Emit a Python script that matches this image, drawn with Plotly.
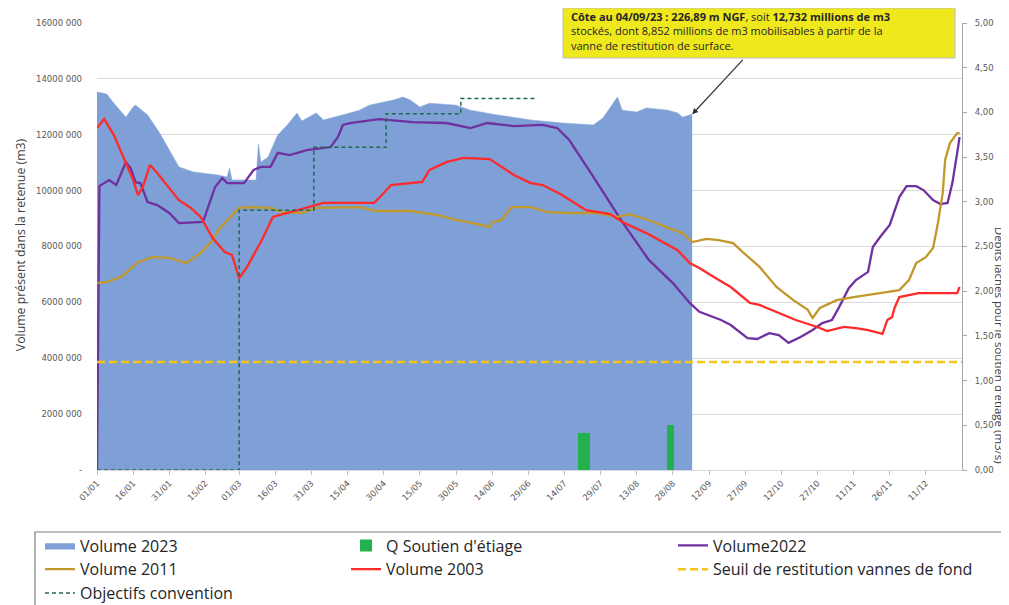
import plotly.graph_objects as go

# axe x = numéro du jour (0 = 01/01), volumes en millions de m3
tick_days = [0, 15, 30, 45, 59, 74, 89, 104, 119, 134, 149, 164, 179, 194, 209, 224,
             239, 254, 269, 284, 299, 314, 329, 344]
tick_labels = ['01/01', '16/01', '31/01', '15/02', '01/03', '16/03', '31/03', '15/04',
               '30/04', '15/05', '30/05', '14/06', '29/06', '14/07', '29/07', '13/08',
               '28/08', '12/09', '27/09', '12/10', '27/10', '11/11', '26/11', '11/12']

vol_ticks = [0, 2, 4, 6, 8, 10, 12, 14, 16]
vol_labels = ['-', '2000 000', '4000 000', '6000 000', '8000 000', '10000 000',
              '12000 000', '14000 000', '16000 000']
debit_ticks = [0, 0.5, 1, 1.5, 2, 2.5, 3, 3.5, 4, 4.5, 5]
debit_labels = ['0,00', '0,50', '1,00', '1,50', '2,00', '2,50', '3,00', '3,50',
                '4,00', '4,50', '5,00']

# Volume 2023
days_2023 = [0, 4, 7, 12, 15, 16, 21, 26, 34, 40, 50, 54, 55, 56, 66, 67, 68, 71, 75, 79,
             83, 85, 91, 94, 105, 109, 113, 123, 127, 130, 134, 138, 149, 155, 166, 180,
             193, 206, 210, 216, 218, 224, 228, 237, 241, 243, 247]
vol_2023 = [13.53, 13.46, 13.13, 12.63, 12.99, 13.06, 12.71, 12.06, 10.85, 10.67, 10.56,
            10.49, 10.81, 10.38, 10.38, 11.67, 11.02, 11.2, 11.99, 12.35, 12.78, 12.49,
            12.78, 12.53, 12.78, 12.88, 13.06, 13.24, 13.35, 13.24, 12.99, 13.13, 13.06,
            12.88, 12.71, 12.53, 12.42, 12.35, 12.6, 13.35, 12.88, 12.81, 12.96, 12.88,
            12.78, 12.63, 12.73]

# Q soutien d'étiage (m3/s)
soutien_days = [200, 201, 202, 203, 204, 237, 238, 239]
soutien_vals = [0.41, 0.41, 0.41, 0.41, 0.41, 0.5, 0.5, 0.5]

# Volume 2022
days_2022 = [0, 1, 5, 8, 12, 14, 16, 18, 21, 25, 30, 34, 44, 46, 49, 52, 54, 61, 65, 68,
             72, 75, 80, 87, 97, 100, 102, 105, 117, 131, 145, 155, 162, 173, 185, 191,
             196, 205, 214, 218, 229, 239, 246, 250, 259, 263, 270, 274, 279, 283, 287,
             292, 297, 301, 305, 308, 312, 315, 320, 322, 325, 329, 333, 336, 340, 343,
             347, 350, 353, 355, 357, 358]
vol_2022 = [0, 10.16, 10.38, 10.2, 11.02, 10.8, 10.3, 10.27, 9.59, 9.48, 9.2, 8.84, 8.88,
            9.41, 10.13, 10.45, 10.27, 10.27, 10.74, 10.85, 10.85, 11.35, 11.27, 11.45,
            11.56, 11.92, 12.35, 12.42, 12.56, 12.45, 12.42, 12.24, 12.42, 12.31, 12.35,
            12.24, 11.81, 10.63, 9.41, 8.88, 7.52, 6.69, 5.98, 5.66, 5.37, 5.19, 4.72,
            4.69, 4.9, 4.83, 4.55, 4.76, 5.01, 5.26, 5.37, 5.83, 6.51, 6.8, 7.09, 7.98,
            8.34, 8.77, 9.77, 10.16, 10.16, 10.02, 9.66, 9.52, 9.56, 10.27, 11.35, 11.92]

# Volume 2011
days_2011 = [0, 4, 10, 17, 23, 30, 37, 43, 47, 51, 55, 59, 63, 72, 77, 85, 91, 105, 109,
             116, 130, 141, 149, 156, 163, 164, 168, 172, 180, 187, 196, 207, 216, 221,
             229, 238, 243, 247, 253, 258, 264, 268, 275, 282, 289, 295, 297, 300, 307,
             314, 325, 333, 337, 340, 344, 347, 349, 351, 352, 354, 357, 358]
vol_2011 = [6.69, 6.73, 6.91, 7.44, 7.62, 7.59, 7.41, 7.77, 8.12, 8.66, 9.02, 9.38, 9.41,
            9.38, 9.23, 9.2, 9.38, 9.41, 9.41, 9.27, 9.27, 9.13, 8.95, 8.84, 8.7, 8.88,
            8.95, 9.41, 9.41, 9.23, 9.2, 9.2, 9.06, 9.16, 8.95, 8.63, 8.48, 8.16, 8.27,
            8.23, 8.12, 7.8, 7.27, 6.55, 6.08, 5.73, 5.44, 5.8, 6.08, 6.19, 6.33, 6.44,
            6.8, 7.41, 7.62, 7.95, 8.84, 9.91, 11.1, 11.7, 12.06, 12.06]

# Volume 2003
days_2003 = [0, 3, 7, 11, 15, 17, 19, 22, 25, 30, 34, 39, 43, 48, 53, 56, 59, 62, 68, 73,
             80, 87, 94, 105, 115, 117, 122, 135, 138, 145, 152, 163, 173, 180, 185, 193,
             203, 213, 218, 228, 241, 246, 250, 256, 263, 271, 275, 283, 290, 299, 303,
             310, 315, 320, 326, 328, 330, 331, 333, 341, 357, 358]
vol_2003 = [12.24, 12.56, 11.99, 11.17, 10.38, 9.84, 10.13, 10.92, 10.63, 10.09, 9.66,
            9.38, 9.06, 8.3, 7.8, 7.7, 6.87, 7.23, 8.16, 9.06, 9.23, 9.41, 9.56, 9.56,
            9.56, 9.73, 10.2, 10.31, 10.74, 11.02, 11.17, 11.13, 10.56, 10.27, 10.2, 9.84,
            9.3, 9.16, 8.88, 8.48, 7.87, 7.41, 7.23, 6.91, 6.55, 5.98, 5.91, 5.62, 5.37,
            5.12, 4.97, 5.12, 5.08, 5.01, 4.87, 5.37, 5.48, 5.8, 6.19, 6.33, 6.33, 6.55]

# seuil vannes de fond et objectifs de la convention
seuil_days = [0, 359]
seuil_vals = [3.87, 3.87]
objectif_days = [0, 59, 90, 120, 151, 182]
objectif_vals = [0, 9.3, 11.55, 12.75, 13.3, 13.3]

tick_font = dict(family='DejaVu Sans', size=8.5, color='#595959')
text_font = "'Open Sans', sans-serif"

fig = go.Figure()
fig.add_trace(go.Scatter(x=days_2023, y=vol_2023, name='Volume 2023', mode='lines',
                         fill='tozeroy', fillcolor='#7ea0d6',
                         line=dict(color='#7ea0d6', width=0.5), legend='legend'))
fig.add_trace(go.Bar(x=soutien_days, y=soutien_vals, name="Q Soutien d'étiage",
                     yaxis='y2', width=1, marker=dict(color='#22b14c', line_width=0),
                     legend='legend2'))
fig.add_trace(go.Scatter(x=days_2022, y=vol_2022, name='Volume2022', mode='lines',
                         line=dict(color='#7030a0', width=2.3), legend='legend3'))
fig.add_trace(go.Scatter(x=days_2011, y=vol_2011, name='Volume 2011', mode='lines',
                         line=dict(color='#c0982b', width=2.3), legend='legend'))
fig.add_trace(go.Scatter(x=days_2003, y=vol_2003, name='Volume 2003', mode='lines',
                         line=dict(color='#ff2a2a', width=2.3), legend='legend2'))
fig.add_trace(go.Scatter(x=seuil_days, y=seuil_vals, name='Seuil de restitution vannes de fond',
                         mode='lines', line=dict(color='#f5c518', width=2.5, dash='8px,4px'),
                         legend='legend3'))
fig.add_trace(go.Scatter(x=objectif_days, y=objectif_vals, name='Objectifs convention',
                         mode='lines', line=dict(color='#1f6b4f', width=1.5, dash='4px,3px',
                                                 shape='hv'), legend='legend'))


def legend_col(x):
    return dict(orientation='v', x=x, xanchor='left', y=-0.1309, yanchor='top',
                font=dict(family=text_font, size=16, color='#262626'),
                bgcolor='rgba(0,0,0,0)', borderwidth=0, itemwidth=30)


# la page ajoute 8 px de marge : figure réduite d'autant
fig.update_layout(
    width=1001, height=597,
    margin=dict(l=89, r=47, t=15, b=135, autoexpand=False),
    plot_bgcolor='white', paper_bgcolor='white',
    bargap=0, showlegend=True,
    font=dict(family=text_font, color='#262626'),
    xaxis=dict(range=[0, 359], tickvals=tick_days, ticktext=tick_labels, tickangle=-45,
               tickfont=tick_font, showgrid=False, zeroline=False, showline=True,
               linecolor='#d9d9d9', ticks='outside', ticklen=4, tickcolor='#bfbfbf'),
    yaxis=dict(range=[0, 16], tickvals=vol_ticks, ticktext=vol_labels, tickfont=tick_font,
               showgrid=True, gridcolor='#d9d9d9', gridwidth=1, zeroline=False,
               showline=False, ticklabelstandoff=14),
    yaxis2=dict(range=[0, 5], tickvals=debit_ticks, ticktext=debit_labels, tickfont=tick_font,
                overlaying='y', side='right', showgrid=False, zeroline=False, showline=True,
                linecolor='#a6a6a6', ticks='outside', ticklen=4, tickcolor='#a6a6a6',
                ticklabelstandoff=6),
    legend=legend_col(-0.0659),
    legend2=legend_col(0.2879),
    legend3=legend_col(0.6659),
)

# cadre de la légende
fig.add_shape(type='rect', xref='paper', yref='paper', x0=-0.0717, x1=1.0497, y0=-0.36,
              y1=-0.1387, line=dict(color='#7f7f7f', width=1.2), layer='below')

# titres des axes
fig.add_annotation(text='Volume présent dans la retenue (m3)', xref='paper', yref='paper',
                   x=-0.089, y=0.503, xanchor='center', yanchor='middle', textangle=-90,
                   showarrow=False, font=dict(family=text_font, size=12.3, color='#404040'))
fig.add_annotation(text="Débits lâchés pour le soutien d'étiage (m3/s)", xref='paper',
                   yref='paper', x=1.0428, y=0.28, xanchor='center', yanchor='middle',
                   textangle=90, showarrow=False, borderpad=0,
                   font=dict(family=text_font, size=11.5, color='#404040'))

# encadré jaune
fig.add_shape(type='rect', xref='paper', yref='paper', x0=0.5387, x1=0.9919, y0=0.9217,
              y1=1.0336, fillcolor='#eee81c', line=dict(color='#bfbfbf', width=1))
box_text = ("<b>Côte au 04/09/23 : 226,89 m NGF</b>, soit <b>12,732 millions de m3</b><br>"
            "stockés, dont 8,852 millions de m3 mobilisables à partir de la<br>"
            "vanne de restitution de surface.")
fig.add_annotation(text=box_text, xref='paper', yref='paper', x=0.546, y=0.981,
                   xanchor='left', yanchor='middle', align='left', showarrow=False,
                   font=dict(family=text_font, size=11, color='#262626'))
fig.add_annotation(x=days_2023[-1], y=vol_2023[-1], xref='x', yref='y', text='',
                   showarrow=True, arrowhead=2, arrowsize=1, arrowwidth=1.2,
                   arrowcolor='#333333', ax=52, ay=-56, standoff=0)

fig.write_html("out.html")
